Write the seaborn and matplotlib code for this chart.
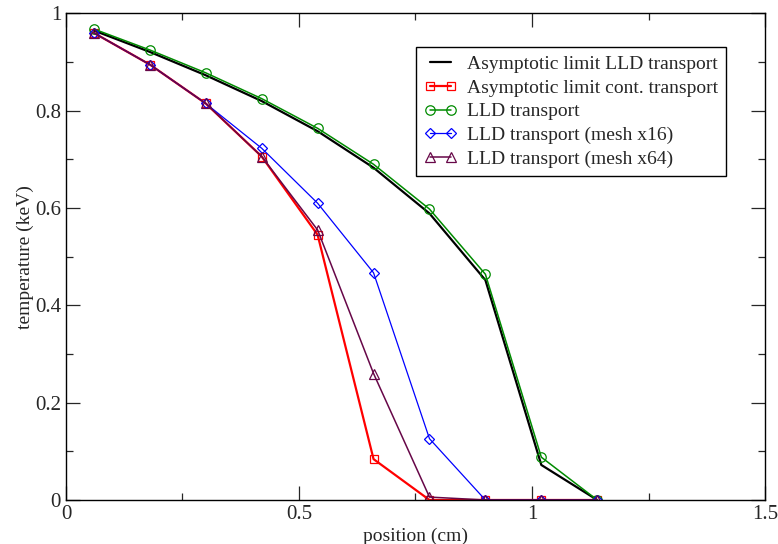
import pandas as pd
import seaborn as sns
import matplotlib.pyplot as plt
from matplotlib.ticker import MultipleLocator

position = [0.06, 0.18, 0.30, 0.42, 0.54, 0.66, 0.78, 0.90, 1.02, 1.14]
asym_lld = [0.965, 0.921, 0.873, 0.820, 0.758, 0.683, 0.589, 0.452, 0.072, 0.0]
asym_cont = [0.960, 0.895, 0.815, 0.706, 0.545, 0.084, 0.0, 0.0, 0.0, 0.0]
lld = [0.968, 0.925, 0.878, 0.825, 0.764, 0.690, 0.598, 0.464, 0.088, 0.0]
lld_x16 = [0.960, 0.895, 0.815, 0.723, 0.610, 0.467, 0.126, 0.0, 0.0, 0.0]
lld_x64 = [0.960, 0.895, 0.815, 0.706, 0.555, 0.260, 0.006, 0.0, 0.0, 0.0]

labels = ["Asymptotic limit LLD transport", "Asymptotic limit cont. transport",
          "LLD transport", "LLD transport (mesh x16)", "LLD transport (mesh x64)"]
series = [asym_lld, asym_cont, lld, lld_x16, lld_x64]
colors = ["black", "#ff0000", "#008b00", "#0000ff", "#670748"]
markers = [None, "s", "o", "D", "^"]
msizes = [0, 6.3, 6.8, 5.0, 6.5]
widths = [1.6, 1.6, 1.1, 0.9, 1.1]

sns.set_style("ticks")
plt.rcParams['font.family'] = ['Liberation Serif', 'DejaVu Serif']

fig = plt.figure(figsize=(7.78, 5.44), dpi=100)
ax = fig.add_axes([0.0848, 0.0809, 0.8985, 0.8943])

for lab, vals, c, m, ms, lw in zip(labels, series, colors, markers, msizes, widths):
    df = pd.DataFrame({"position": position, "temperature": vals})
    sns.lineplot(data=df, x="position", y="temperature", ax=ax, color=c, lw=lw,
                 marker=m, markersize=ms, markerfacecolor="none", markeredgecolor=c,
                 markeredgewidth=0.9, label=lab)

ax.set_xlim(0, 1.5)
ax.set_ylim(0, 1)
ax.xaxis.set_major_locator(MultipleLocator(0.5))
ax.xaxis.set_minor_locator(MultipleLocator(0.25))
ax.yaxis.set_major_locator(MultipleLocator(0.2))
ax.yaxis.set_minor_locator(MultipleLocator(0.1))
ax.xaxis.set_major_formatter(plt.FuncFormatter(lambda v, p: f"{v:g}"))
ax.yaxis.set_major_formatter(plt.FuncFormatter(lambda v, p: f"{v:g}"))
ax.tick_params(which="both", direction="in", top=True, right=True, labelsize=15, width=0.9)
ax.tick_params(which="major", length=10, pad=3.5)
ax.tick_params(which="minor", length=5)
for s in ax.spines.values():
    s.set_linewidth(1.0)
    s.set_color("black")

ax.set_xlabel("position (cm)", fontsize=14, labelpad=2.5)
ax.set_ylabel("temperature (keV)", fontsize=14, labelpad=1)

leg = ax.legend(loc="upper right", bbox_to_anchor=(0.944, 0.9305), numpoints=2,
                fontsize=14, frameon=True, fancybox=False, edgecolor="black",
                framealpha=1, borderpad=0.4, labelspacing=0.32, handlelength=1.7,
                handletextpad=0.5, borderaxespad=0)
leg.get_frame().set_linewidth(1.0)

fig.savefig("out.png", dpi=100)
